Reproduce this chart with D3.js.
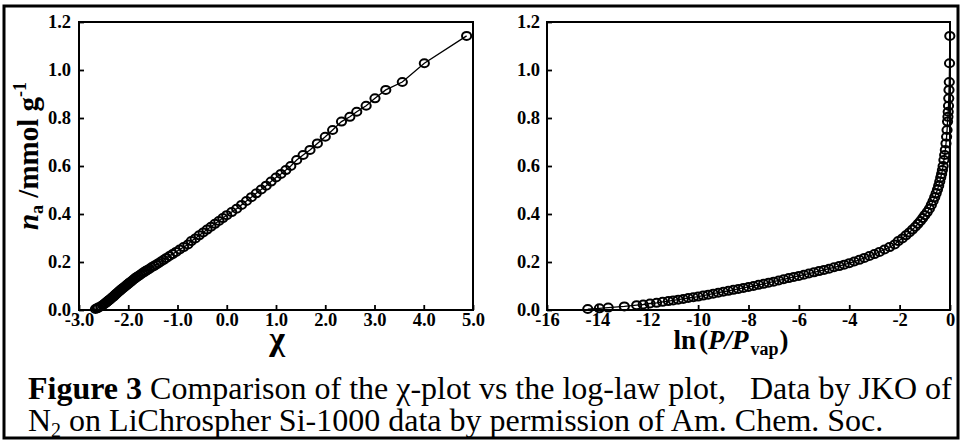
<!DOCTYPE html>
<html>
<head>
<meta charset="utf-8">
<script src="https://cdn.jsdelivr.net/npm/d3@7"></script>
<style>
  html, body { margin: 0; padding: 0; background: #fff; }
  svg { display: block; }
  text { font-family: "Liberation Serif", "Times New Roman", serif; fill: #000; }
</style>
</head>
<body>
<svg id="fig" width="962" height="441"></svg>
<script>
// N2 on LiChrospher Si-1000: ln(P/Pvap) and amount adsorbed (mmol/g)
const lnRelP = [
  -14.38, -13.92, -13.57, -12.93, -12.44, -12.18, -11.91, -11.65, -11.41, -11.18,
  -10.99, -10.79, -10.59, -10.39, -10.19, -10.0, -9.8, -9.6, -9.4, -9.2,
  -9.0, -8.8, -8.6, -8.4, -8.2, -8.0, -7.8, -7.6, -7.4, -7.2,
  -7.0, -6.8, -6.6, -6.4, -6.2, -6.0, -5.8, -5.6, -5.4, -5.2,
  -5.0, -4.8, -4.6, -4.4, -4.2, -4.0, -3.8, -3.6, -3.4, -3.2,
  -3.0, -2.8, -2.6, -2.4, -2.2, -2.0544, -1.8965, -1.7507, -1.6161, -1.4918,
  -1.3771, -1.2712, -1.1735, -1.0833, -1.0, -0.9048, -0.8187, -0.7408, -0.6703, -0.6065,
  -0.5488, -0.4966, -0.4493, -0.4066, -0.3679, -0.3329, -0.3012, -0.2725, -0.2417, -0.2122,
  -0.1845, -0.1588, -0.1353, -0.1165, -0.0973, -0.0821, -0.0714, -0.0590, -0.0493, -0.0396,
  -0.0283, -0.0181, -0.00767
];
const nAds = [
  0.004, 0.007, 0.010, 0.015, 0.020, 0.023, 0.027, 0.030, 0.034, 0.037,
  0.040, 0.043, 0.046, 0.050, 0.053, 0.056, 0.060, 0.064, 0.068, 0.072,
  0.076, 0.080, 0.084, 0.088, 0.092, 0.096, 0.100, 0.105, 0.109, 0.114,
  0.118, 0.123, 0.128, 0.133, 0.138, 0.142, 0.147, 0.152, 0.157, 0.162,
  0.167, 0.172, 0.178, 0.183, 0.189, 0.195, 0.202, 0.209, 0.217, 0.225,
  0.233, 0.242, 0.252, 0.262, 0.273, 0.287, 0.298, 0.311, 0.323, 0.335,
  0.347, 0.359, 0.371, 0.383, 0.395, 0.408, 0.422, 0.438, 0.454, 0.470,
  0.486, 0.502, 0.518, 0.535, 0.552, 0.567, 0.583, 0.600, 0.625, 0.646,
  0.667, 0.694, 0.722, 0.750, 0.785, 0.805, 0.826, 0.851, 0.882, 0.917,
  0.950, 1.028, 1.142
];

// axis ticks
const chiTicks = [-3, -2, -1, 0, 1, 2, 3, 4, 5];
const chiTickLabels = ["-3.0", "-2.0", "-1.0", "0.0", "1.0", "2.0", "3.0", "4.0", "5.0"];
const lnTicks = [-16, -14, -12, -10, -8, -6, -4, -2, 0];
const lnTickLabels = ["-16", "-14", "-12", "-10", "-8", "-6", "-4", "-2", "0"];
const nTicks = [0, 0.2, 0.4, 0.6, 0.8, 1.0, 1.2];
const nTickLabels = ["0.0", "0.2", "0.4", "0.6", "0.8", "1.0", "1.2"];

// chi = -ln(-ln(P/Pvap))
const points = lnRelP.map((l, i) => ({ ln: l, chi: -Math.log(-l), n: nAds[i] }));

const svg = d3.select("#fig");

// outer figure border
svg.append("rect")
  .attr("x", 4).attr("y", 6).attr("width", 954).attr("height", 432)
  .attr("fill", "none").attr("stroke", "#000").attr("stroke-width", 3);

const plotTop = 22, plotBottom = 310;
const yN = d3.scaleLinear().domain([0, 1.2]).range([plotBottom, plotTop]);

function panel(x, xTicks, xLabels, xKey, labelPad) {
  const g = svg.append("g");
  const [x0, x1] = x.range();
  const y = yN;

  const xa = g.append("g").attr("transform", `translate(0,${plotBottom})`)
    .call(d3.axisBottom(x).tickValues(xTicks).tickSize(-5).tickPadding(3)
      .tickFormat((d, i) => xLabels[i]));
  const ya = g.append("g").attr("transform", `translate(${x0},0)`)
    .call(d3.axisLeft(y).tickValues(nTicks).tickSize(-5).tickPadding(labelPad)
      .tickFormat((d, i) => nTickLabels[i]));
  [xa, ya].forEach(a => {
    a.select(".domain").remove();
    a.selectAll(".tick line").attr("stroke", "#000").attr("stroke-width", 1.8);
    a.selectAll(".tick text")
      .style("font-family", '"Liberation Serif", serif')
      .style("font-weight", "bold").style("font-size", "18.5px").attr("fill", "#000");
  });

  const line = d3.line().x(d => x(d[xKey])).y(d => y(d.n));
  g.append("path").datum(points)
    .attr("d", line).attr("fill", "none").attr("stroke", "#000").attr("stroke-width", 1.3);

  g.selectAll("ellipse").data(points).join("ellipse")
    .attr("cx", d => x(d[xKey])).attr("cy", d => y(d.n))
    .attr("rx", 4.6).attr("ry", 4)
    .attr("fill", "none").attr("stroke", "#000").attr("stroke-width", 2);

  g.append("rect")
    .attr("x", x0).attr("y", plotTop).attr("width", x1 - x0).attr("height", plotBottom - plotTop)
    .attr("fill", "none").attr("stroke", "#000").attr("stroke-width", 2);
  return g;
}

const xChi = d3.scaleLinear().domain([-3, 5]).range([79, 473]);
const xLn = d3.scaleLinear().domain([-16, 0]).range([547, 950]);
panel(xChi, chiTicks, chiTickLabels, "chi", 8);
panel(xLn, lnTicks, lnTickLabels, "ln", 7);

// axis titles
svg.append("text")
  .attr("x", 277).attr("y", 350).attr("text-anchor", "middle")
  .style("font-weight", "bold").style("font-size", "34px").text("χ");

const lnTitle = svg.append("text")
  .attr("x", 731).attr("y", 349).attr("text-anchor", "middle")
  .style("font-weight", "bold").style("font-size", "27px");
lnTitle.append("tspan").text("ln");
lnTitle.append("tspan").attr("dx", 3).text("(");
lnTitle.append("tspan").style("font-style", "italic").text("P/P");
lnTitle.append("tspan").attr("dy", 6).attr("dx", 2).style("font-size", "18px").text("vap");
lnTitle.append("tspan").attr("dy", -6).attr("dx", 1).text(")");

const yTitle = svg.append("text")
  .attr("transform", "translate(38,156) rotate(-90)").attr("text-anchor", "middle")
  .style("font-weight", "bold").style("font-size", "29px");
yTitle.append("tspan").style("font-style", "italic").text("n");
yTitle.append("tspan").attr("dy", 5).style("font-size", "18px").text("a");
yTitle.append("tspan").attr("dy", -5).text(" /mmol g");
yTitle.append("tspan").attr("dy", -12).style("font-size", "18px").text("-1");

// caption
const cap1 = svg.append("text").attr("x", 28).attr("y", 399)
  .style("font-size", "32px").style("white-space", "pre");
cap1.append("tspan").style("font-weight", "bold").text("Figure 3");
cap1.append("tspan").text(" Comparison of the χ-plot vs the log-law plot,   Data by JKO of");

const cap2 = svg.append("text").attr("x", 28).attr("y", 431).style("font-size", "32px");
cap2.append("tspan").text("N");
cap2.append("tspan").attr("dy", 6).style("font-size", "20px").text("2");
cap2.append("tspan").attr("dy", -6).text(" on LiChrospher Si-1000 data by permission of Am. Chem. Soc.");
</script>
</body>
</html>
